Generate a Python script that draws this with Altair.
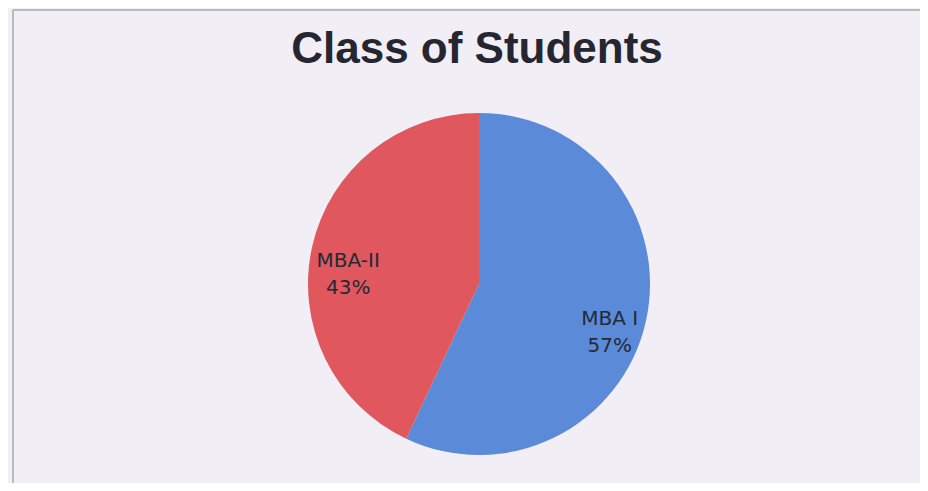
import altair as alt
import pandas as pd

categories = ["MBA I", "MBA-II"]
values = [57, 43]
colors = ["#5b8ad8", "#e0585e"]
title_text = "Class of Students"

df = pd.DataFrame({
    "category": categories,
    "value": values,
    "order": list(range(len(categories))),
})
df["label"] = df["category"] + "\n" + df["value"].astype(str) + "%"

W, H = 912, 475
CX, CY = 471, 276

base = alt.Chart(df).encode(
    theta=alt.Theta("value:Q", stack=True),
    order=alt.Order("order:Q"),
)

pie = base.mark_arc(radius=171, stroke=None).encode(
    color=alt.Color("category:N", scale=alt.Scale(domain=categories, range=colors), legend=None),
    x=alt.value(CX),
    y=alt.value(CY),
)

labels = base.mark_text(
    radius=134, dy=6, fontSize=20, font="DejaVu Sans", color="#242a38",
    lineBreak="\n", lineHeight=27, align="center", baseline="middle",
).encode(
    text="label:N",
    x=alt.value(CX),
    y=alt.value(CY),
)

title = alt.Chart(pd.DataFrame({"t": [title_text]})).mark_text(
    fontSize=44, fontWeight="bold", font="Liberation Sans", color="#262630",
    align="center", baseline="alphabetic",
).encode(text="t:N", x=alt.value(469), y=alt.value(55))

border_left = alt.Chart(pd.DataFrame({"a": [0]})).mark_rule(color="#a9a6ae", strokeWidth=1.5).encode(
    x=alt.value(5), y=alt.value(2), y2=alt.value(H)
)
border_top = alt.Chart(pd.DataFrame({"a": [0]})).mark_rule(color="#a9a6ae", strokeWidth=1.5).encode(
    x=alt.value(5), x2=alt.value(W), y=alt.value(2)
)

chart = alt.layer(border_left, border_top, pie, labels, title).properties(
    width=W, height=H,
    autosize=alt.AutoSizeParams(type="fit", contains="padding"),
    padding=0,
    background="#f1eef6",
).configure_view(stroke=None)

chart.save("out.html", embed_options={"renderer": "svg", "actions": False})
